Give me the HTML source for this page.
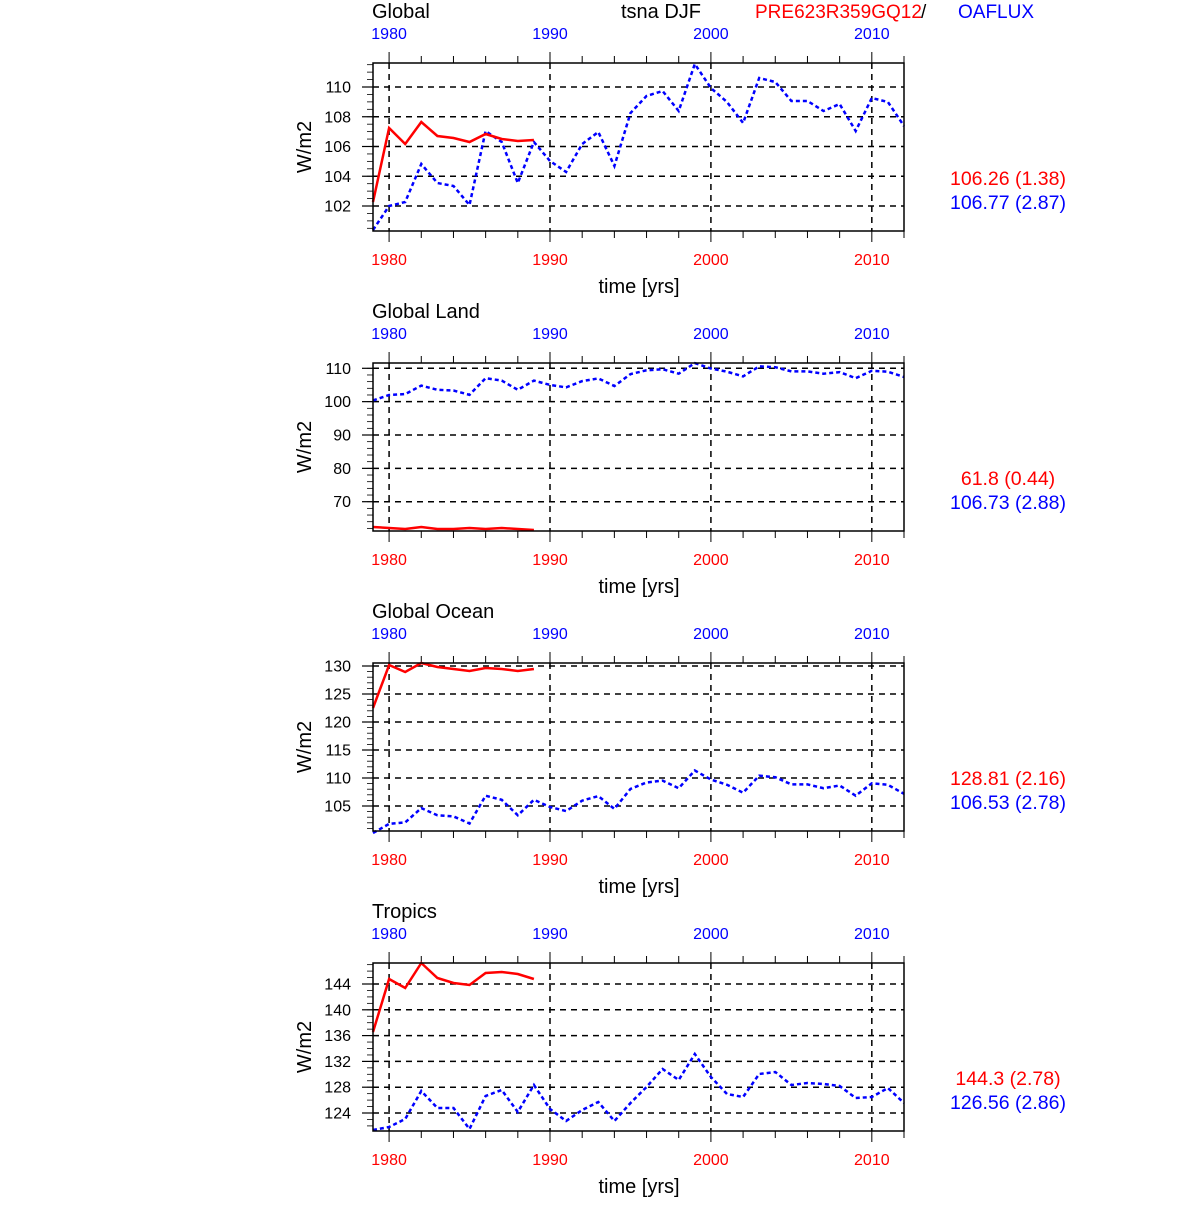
<!DOCTYPE html>
<html><head><meta charset="utf-8"><style>
html,body{margin:0;padding:0;background:#fff;}
svg text{font-family:"Liberation Sans",sans-serif;}
</style></head><body>
<svg id="s" width="1200" height="1200" xmlns="http://www.w3.org/2000/svg">
<text x="372" y="18" font-size="20">Global</text>
<text x="621" y="18" font-size="20">tsna DJF</text>
<text x="755" y="18" font-size="19" fill="#f00">PRE623R359GQ12</text>
<text x="921" y="18" font-size="19">/</text>
<text x="958" y="18" font-size="19" fill="#00f">OAFLUX</text>
</svg>
<script>
var s=document.getElementById('s');var h='';
var X0=373,X1=904,dx=(X1-X0)/33;
function px(i){return X0+i*dx;}
var b1=[230,206,202,164,183,186,205,131,142,183,142,161,172,144,132,166,113,96,91,111,64,88,102,123,78,82,101,101,111,104,131,98,102,126];
var r1=[202,128,144,122,136,138,142,134,139,141,140];
var b4=[1130,1127,1119,1091,1108,1108,1129,1096,1090,1112,1085,1109,1121,1110,1102,1121,1103,1087,1069,1080,1054,1077,1094,1097,1074,1072,1085,1083,1084,1086,1098,1097,1088,1103];
var r4=[1032,979,988,963,978,983,985,973,972,974,979];
function val1(y){return 110-(y-87)/14.875;}
var panels=[
 {t:'Global',top:63,y0:87,v0:110,sc:14.875,ticks:[110,108,106,104,102],minor:0.5,lo:100.4,hi:111.7,
  b:b1,r:r1,s1:'106.26 (1.38)',s2:'106.77 (2.87)'},
 {t:'Global Land',top:363,y0:368.3,v0:110,sc:3.335,ticks:[110,100,90,80,70],minor:2,lo:61.2,hi:111.5,
  b:b1.map(function(y){return 368.3+(110-val1(y))*3.335;}),
  r:[527,528,529,527,529,529,528,529,528,529,530],s1:'61.8 (0.44)',s2:'106.73 (2.88)'},
 {t:'Global Ocean',top:663,y0:666,v0:130,sc:5.6,ticks:[130,125,120,115,110,105],minor:1,lo:100.2,hi:130.5,
  b:b1.map(function(y){return 666+(130-(val1(y)-0.2))*5.6;}),
  r:[708,665,672,663,667,669,671,668,669,671,669],s1:'128.81 (2.16)',s2:'106.53 (2.78)'},
 {t:'Tropics',top:963,y0:984,v0:144,sc:6.45,ticks:[144,140,136,132,128,124],minor:1,lo:121.5,hi:147,
  b:b4,r:r4,s1:'144.3 (2.78)',s2:'126.56 (2.86)'}
];
panels.forEach(function(p,k){
 var T=p.top,B=T+168,o=k*300;
 if(k>0)h+='<text x="372" y="'+(18+o)+'" font-size="20">'+p.t+'</text>';
 p.ticks.forEach(function(v){var y=p.y0+(p.v0-v)*p.sc;
  h+='<line x1="'+X0+'" x2="'+X1+'" y1="'+y+'" y2="'+y+'" stroke="#000" stroke-width="1.5" stroke-dasharray="6,5"/>';
  h+='<line x1="362" x2="'+X0+'" y1="'+y+'" y2="'+y+'" stroke="#000" stroke-width="1.2"/>';
  h+='<text x="351" y="'+(y+5.5)+'" font-size="16" text-anchor="end">'+v+'</text>';});
 for(var v=Math.ceil(p.lo/p.minor)*p.minor;v<=p.hi;v+=p.minor){var y=p.y0+(p.v0-v)*p.sc;if(y<T||y>B)continue;
  h+='<line x1="367" x2="'+X0+'" y1="'+y+'" y2="'+y+'" stroke="#000" stroke-width="0.8"/>';}
 [1980,1990,2000,2010].forEach(function(yr,j){var x=px(yr-1979);
  h+='<line x1="'+x+'" x2="'+x+'" y1="'+T+'" y2="'+B+'" stroke="#000" stroke-width="1.5" stroke-dasharray="6,5"/>';
  h+='<text x="'+x+'" y="'+(39+o)+'" font-size="16" fill="#00f" text-anchor="middle">'+yr+'</text>';
  h+='<text x="'+x+'" y="'+(265+o)+'" font-size="16" fill="#f00" text-anchor="middle">'+yr+'</text>';});
 for(var yr=1980;yr<=2012;yr+=2){var x=px(yr-1979),L=(yr%10==0)?11:7;
  h+='<line x1="'+x+'" x2="'+x+'" y1="'+(T-L)+'" y2="'+T+'" stroke="#000" stroke-width="1"/>';
  h+='<line x1="'+x+'" x2="'+x+'" y1="'+B+'" y2="'+(B+L)+'" stroke="#000" stroke-width="1"/>';}
 var pb=p.b.map(function(y,i){return px(i).toFixed(1)+','+y.toFixed(1);}).join(' ');
 var pr=p.r.map(function(y,i){return px(i).toFixed(1)+','+y.toFixed(1);}).join(' ');
 h+='<polyline points="'+pb+'" fill="none" stroke="#00f" stroke-width="2.5" stroke-dasharray="4,3"/>';
 h+='<polyline points="'+pr+'" fill="none" stroke="#f00" stroke-width="2.5"/>';
 h+='<rect x="'+X0+'" y="'+T+'" width="'+(X1-X0)+'" height="168" fill="none" stroke="#000" stroke-width="1.5"/>';
 h+='<text x="639" y="'+(293+o)+'" font-size="20" text-anchor="middle">time [yrs]</text>';
 h+='<text transform="translate(311,'+(147+o)+') rotate(-90)" font-size="20" text-anchor="middle">W/m2</text>';
 h+='<text x="1008" y="'+(185+o)+'" font-size="19.5" fill="#f00" text-anchor="middle">'+p.s1+'</text>';
 h+='<text x="1008" y="'+(209+o)+'" font-size="19.5" fill="#00f" text-anchor="middle">'+p.s2+'</text>';
});
s.insertAdjacentHTML('beforeend',h);
</script>
</body></html>
